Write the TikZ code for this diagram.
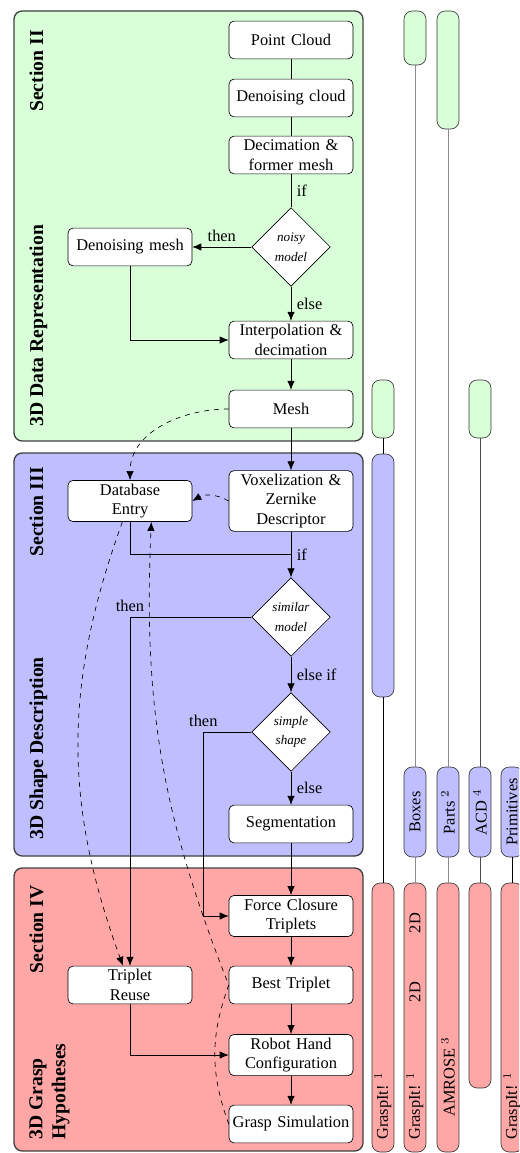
\documentclass[tikz,border=0pt]{standalone}
\usepackage{fontspec}
\setmainfont{Liberation Serif}
\usepackage{tikz}
\usetikzlibrary{shapes.geometric, arrows.meta, calc}
\newcommand{\px}{0.61pt}
\tikzset{
  section/.style={draw=black!75, line width=0.8pt, rounded corners=5pt},
  seclabel/.style={rotate=90, font=\large\bfseries, inner sep=0pt},
  procbox/.style={rectangle, rounded corners=3pt, draw=black, fill=white,
    text width=73.6pt, inner xsep=1pt, inner ysep=2pt, minimum height=23pt,
    align=center},
  decision/.style={diamond, draw=black, fill=white, inner sep=0pt,
    minimum width=48pt, minimum height=48pt, align=center,
    font=\fontsize{8pt}{12pt}\selectfont\itshape},
  pill/.style={rectangle, rotate=90, draw=black!80, rounded corners=5pt,
    minimum height=13.4pt, inner sep=0pt},
  pilltext/.style={rotate=90, anchor=west, inner sep=0pt},
  arrow/.style={-{Latex[length=5.5pt, width=4.5pt]}},
  link/.style={black!45, line width=0.6pt}
}
\begin{document}
\begin{tikzpicture}[x=\px, y=-\px]
  \useasboundingbox (0,0) rectangle (519,1153);
  \clip (0,0) rectangle (519,1153);
  \draw[section, fill=green!15] (14,11) rectangle (363,441);
  \draw[section, fill=blue!25] (14,453) rectangle (363,856);
  \draw[section, fill=red!35] (14,868) rectangle (363,1151);
  \node[seclabel, anchor=base east] (secii) at (43,30) {Section II};
  \node[seclabel, anchor=base west] (secdata) at (43,427) {3D Data Representation};
  \node[seclabel, anchor=base east] (seciii) at (43,467) {Section III};
  \node[seclabel, anchor=base west] (secshape) at (43,840) {3D Shape Description};
  \node[seclabel, anchor=base east] (seciv) at (43,885) {Section IV};
  \node[seclabel, anchor=north west, align=left] (secgrasp) at (29,1140)
    {3D Grasp\\Hypotheses};

  \node[procbox] (pointcloud) at (291,40) {Point Cloud};
  \node[procbox] (denoisecloud) at (291,98) {Denoising cloud};
  \node[procbox] (decimation) at (291,155) {Decimation \&\\former mesh};
  \node[decision] (noisy) at (291,247) {noisy\\model};
  \node[procbox] (denoisemesh) at (130,247) {Denoising mesh};
  \node[procbox] (interpolation) at (291,340) {Interpolation \&\\decimation};
  \node[procbox] (mesh) at (291,409) {Mesh};
  \node[procbox] (voxel) at (291,501) {Voxelization \&\\Zernike\\Descriptor};
  \node[procbox] (database) at (130,501) {Database\\Entry};
  \node[decision] (similar) at (291,617) {similar\\model};
  \node[decision] (simple) at (291,732) {simple\\shape};
  \node[procbox] (segmentation) at (291,824) {Segmentation};
  \node[procbox] (forceclosure) at (291,916) {Force Closure\\Triplets};
  \node[procbox] (tripletreuse) at (130,985) {Triplet\\Reuse};
  \node[procbox] (besttriplet) at (291,985) {Best Triplet};
  \node[procbox] (robothand) at (291,1055) {Robot Hand\\Configuration};
  \node[procbox] (graspsim) at (291,1124) {Grasp Simulation};

  \draw (pointcloud) -- (denoisecloud);
  \draw (denoisecloud) -- (decimation);
  \draw (decimation) -- node[right] {if} (noisy);
  \draw[arrow] (noisy) -- node[above] {then} (denoisemesh);
  \draw[arrow] (noisy) -- node[right] {else} (interpolation);
  \draw[arrow] (denoisemesh) |- (interpolation);
  \draw[arrow] (interpolation) -- (mesh);
  \draw[arrow] (mesh) -- (voxel);
  \draw[arrow] (voxel) -- node[right] {if} (similar);
  \draw (database) |- ($(voxel.south)!0.5!(similar.north)$);
  \draw[arrow] (similar) -| node[pos=0.5, above] {then} (tripletreuse);
  \draw[arrow] (similar) -- node[right] {else if} (simple);
  \draw[arrow] (simple.west) -- ++(-48,0) node[above] {then} |- (forceclosure);
  \draw[arrow] (simple) -- node[right] {else} (segmentation);
  \draw[arrow] (segmentation) -- (forceclosure);
  \draw[arrow] (forceclosure) -- (besttriplet);
  \draw[arrow] (besttriplet) -- (robothand);
  \draw[arrow] (robothand) -- (graspsim);
  \draw[arrow] (tripletreuse) |- (robothand);
  \draw[arrow, dashed] (mesh.west) to[out=180, in=90] (database.north);
  \draw[arrow, dashed] (voxel.west) to[bend right] (database.east);
  \draw[arrow, dashed] (database) to[bend right=20] (tripletreuse);
  \draw[arrow, dashed] (graspsim.west) to[bend left=20] (besttriplet.west)
    to[bend left=12] ([xshift=13pt]database.south);

  \node[pill, fill=green!15, minimum width=58*\px] (green1) at (383,409) {};
  \node[pill, fill=blue!25, minimum width=243*\px] (blue1) at (383,575.5) {};
  \node[pill, fill=red!35, minimum width=269*\px] (red1) at (383,1017.5) {};
  \node[pill, fill=green!15, minimum width=54*\px] (green2) at (415,38) {};
  \node[pill, fill=blue!25, minimum width=90*\px] (blue2) at (415,812) {Boxes};
  \node[pill, fill=red!35, minimum width=269*\px] (red2) at (415,1017.5) {};
  \node[pill, fill=green!15, minimum width=118*\px] (green3) at (448,70) {};
  \node[pill, fill=blue!25, minimum width=90*\px] (blue3) at (448,812) {Parts $^{2}$};
  \node[pill, fill=red!35, minimum width=269*\px] (red3) at (448,1017.5) {};
  \node[pill, fill=green!15, minimum width=58*\px] (green4) at (480,409) {};
  \node[pill, fill=blue!25, minimum width=90*\px] (blue4) at (480,812) {ACD $^{4}$};
  \node[pill, fill=red!35, minimum width=205*\px] (red4) at (480,985.5) {};
  \node[pill, fill=blue!25, minimum width=90*\px] (blue5) at (512,812) {Primitives};
  \node[pill, fill=red!35, minimum width=269*\px] (red5) at (512,1017.5) {};

  \node[pilltext] (red1name) at (383,1140) {GraspIt! $^{1}$};
  \node[pilltext] (red2name) at (415,1140) {GraspIt! $^{1}$};
  \node[rotate=90] (red2low) at (415,992) {2D};
  \node[rotate=90] (red2high) at (415,923) {2D};
  \node[pilltext] (red3name) at (448,1117) {AMROSE $^{3}$};
  \node[pilltext] (red5name) at (512,1140) {GraspIt! $^{1}$};

  \draw (green1) -- (blue1);
  \draw (blue1) -- (red1);
  \draw[link] (green2) -- (blue2);
  \draw[link] (blue2) -- (red2);
  \draw[link] (green3) -- (blue3);
  \draw[link] (blue3) -- (red3);
  \draw[black!70] (green4) -- (blue4);
  \draw[black!70] (blue4) -- (red4);
  \draw (blue5) -- (red5);
\end{tikzpicture}
\end{document}
